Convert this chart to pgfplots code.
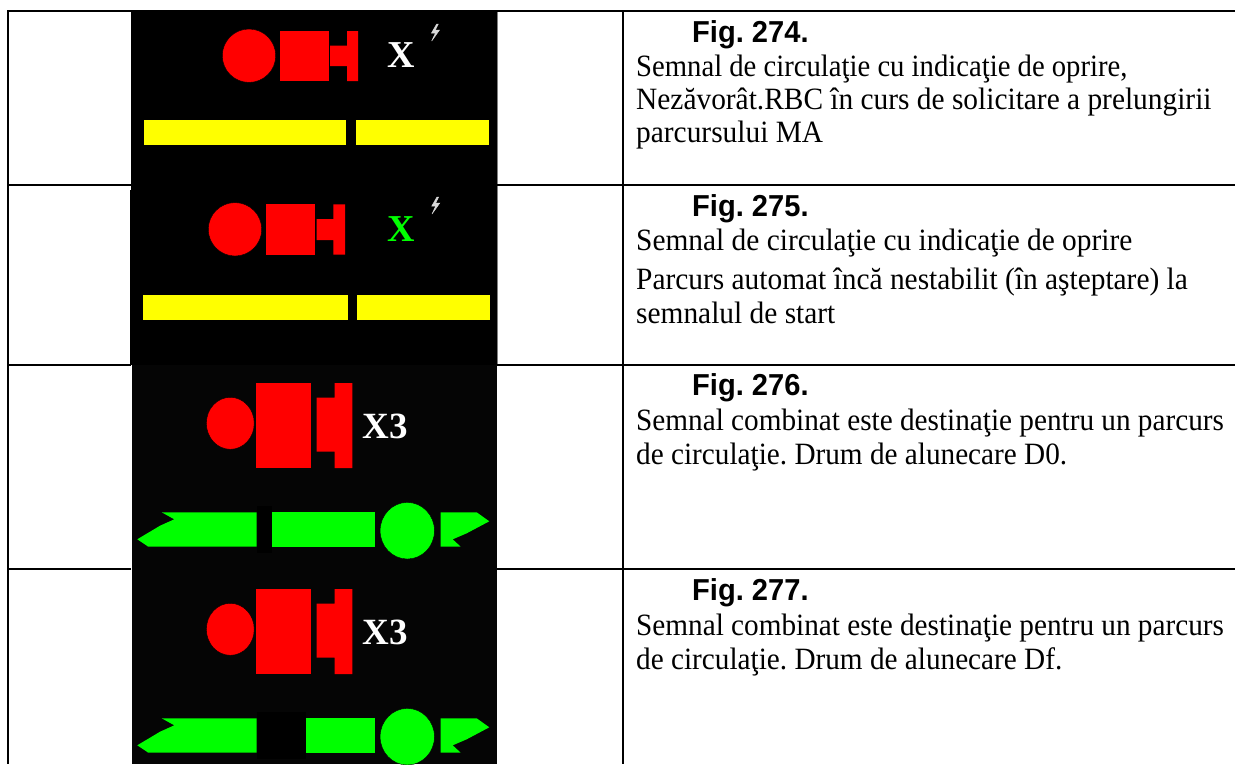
\documentclass[border=0pt]{standalone}
\usepackage{graphicx}
\usepackage{pgfplots}
\pgfplotsset{compat=1.18}
\usepackage{fontspec}
\setmainfont{Liberation Serif}
\newfontfamily\arial{Liberation Sans}
\definecolor{grn}{RGB}{0,255,0}
\definecolor{ylw}{RGB}{255,255,0}
\definecolor{nearblack}{RGB}{5,5,5}
\frenchspacing
\newcommand{\body}[3][0.948]{\node[anchor=base west,inner sep=0pt,font=\fontsize{31}{34}\selectfont] at (axis cs:636,#2) {\scalebox{#1}[1]{#3}};}
\newcommand{\figt}[2]{\node[anchor=base west,inner sep=0pt,font=\arial\bfseries\fontsize{30.3}{34}\selectfont] at (axis cs:692,#1) {\scalebox{0.96}[1]{#2}};}
\begin{document}
\begin{tikzpicture}
\useasboundingbox (0,0) rectangle (1235pt,764pt);
\begin{axis}[at={(0,0)},anchor=south west,scale only axis,width=1235pt,height=764pt,xmin=0,xmax=1235,ymin=0,ymax=764,y dir=reverse,hide axis,clip=true]
% black image backgrounds
\addplot[fill=black,draw=none] coordinates {(131,10)(497,10)(497,190)(131,190)} --cycle;
\addplot[fill=black,draw=none] coordinates {(130,190)(497,190)(497,365)(130,365)} --cycle;
\addplot[fill=nearblack,draw=none] coordinates {(132,365)(497,365)(497,569)(132,569)} --cycle;
\addplot[fill=nearblack,draw=none] coordinates {(132,569)(497,569)(497,764)(132,764)} --cycle;
% table rules
\addplot[black,line width=2pt] coordinates {(7,11)(1235,11)};
\addplot[black,line width=2pt] coordinates {(7,184.5)(131,184.5)};
\addplot[black,line width=2pt] coordinates {(497,184.5)(1235,184.5)};
\addplot[black,line width=2pt] coordinates {(7,365)(131,365)};
\addplot[black,line width=2pt] coordinates {(497,365)(1235,365)};
\addplot[black,line width=2pt] coordinates {(7,569)(131,569)};
\addplot[black,line width=2pt] coordinates {(497,569)(1235,569)};
\addplot[black,line width=2pt] coordinates {(622.5,10)(622.5,764)};
\addplot[black,line width=2pt] coordinates {(8,10)(8,764)};
\addplot[gray,line width=1pt] coordinates {(497,12)(497,184)};
\addplot[gray,line width=1pt] coordinates {(497.5,186)(497.5,364)};
% image 1
\addplot[only marks,mark=*,mark size=26.7pt,mark options={fill=red,draw=none}] coordinates {(249,55.7)};
\addplot[fill=red,draw=none] coordinates {(280,31)(329,31)(329,81)(280,81)} --cycle;
\addplot[fill=red,draw=none] coordinates {(330,45.7)(347,45.7)(347,31)(358,31)(358,81)(347,81)(347,66)(330,66)} --cycle;
\addplot[fill=ylw,draw=none] coordinates {(144.3,120)(346.3,120)(346.3,145.3)(144.3,145.3)} --cycle;
\addplot[fill=ylw,draw=none] coordinates {(356.3,120)(489.3,120)(489.3,145.3)(356.3,145.3)} --cycle;
\addplot[fill=black!15,draw=black!15,line width=0.5pt] coordinates {(436.7,24)(431.5,33)(435.5,33)(431.7,41)(439.5,30)(435.3,30)(438.3,24)} --cycle;
\node[anchor=base,inner sep=0pt,text=white,font=\bfseries\fontsize{38}{38}\selectfont] at (axis cs:401,67.5) {X};
% image 2
\addplot[only marks,mark=*,mark size=26.7pt,mark options={fill=red,draw=none}] coordinates {(235,229.3)};
\addplot[fill=red,draw=none] coordinates {(266.3,204.3)(315.3,204.3)(315.3,254.7)(266.3,254.7)} --cycle;
\addplot[fill=red,draw=none] coordinates {(316.7,219)(333.3,219)(333.3,204.3)(345,204.3)(345,254.7)(333.3,254.7)(333.3,240)(316.7,240)} --cycle;
\addplot[fill=ylw,draw=none] coordinates {(143.3,295)(347.7,295)(347.7,320.3)(143.3,320.3)} --cycle;
\addplot[fill=ylw,draw=none] coordinates {(356.7,295)(490.3,295)(490.3,320.3)(356.7,320.3)} --cycle;
\addplot[fill=black!15,draw=black!15,line width=0.5pt] coordinates {(437,197)(431.8,206)(435.8,206)(432,214)(439.8,203)(435.6,203)(438.6,197)} --cycle;
\node[anchor=base,inner sep=0pt,text=grn,font=\bfseries\fontsize{38}{38}\selectfont] at (axis cs:401.7,241.5) {X};
% image 3
\addplot[only marks,mark=*,mark size=26pt,mark options={fill=red,draw=none,xscale=0.92}] coordinates {(230.3,423.3)};
\addplot[fill=red,draw=none] coordinates {(256.3,383)(310.7,383)(310.7,468)(256.3,468)} --cycle;
\addplot[fill=red,draw=none] coordinates {(316.7,397.7)(334.7,397.7)(334.7,383)(352.3,383)(352.3,468)(334.7,468)(334.7,451.7)(316.7,451.7)} --cycle;
\node[anchor=base,inner sep=0pt,text=white,font=\bfseries\fontsize{37}{37}\selectfont] at (axis cs:385,438.3) {X3};
\addplot[fill=black,draw=none] coordinates {(256.7,506)(272.3,506)(272.3,553)(256.7,553)} --cycle;
\addplot[fill=grn,draw=none] coordinates {(161.7,512.3)(256.7,512.3)(256.7,546.7)(148.3,546.7)(137.3,539.3)(160,525.7)(174.3,519.3)} --cycle;
\addplot[fill=grn,draw=none] coordinates {(272.3,512.3)(374.7,512.3)(374.7,546.7)(272.3,546.7)} --cycle;
\addplot[only marks,mark=*,mark size=28.3pt,mark options={fill=grn,draw=none,xscale=0.96}] coordinates {(407.3,530.7)};
\addplot[fill=grn,draw=none] coordinates {(440.7,512.3)(476.7,512.3)(489.3,521.3)(466.7,533.3)(452.7,539.3)(460.7,546.7)(440.7,546.7)} --cycle;
% image 4
\addplot[only marks,mark=*,mark size=26pt,mark options={fill=red,draw=none,xscale=0.92}] coordinates {(230.3,629.3)};
\addplot[fill=red,draw=none] coordinates {(256.3,589)(310.7,589)(310.7,674)(256.3,674)} --cycle;
\addplot[fill=red,draw=none] coordinates {(316.7,603.7)(334.7,603.7)(334.7,589)(352.3,589)(352.3,674)(334.7,674)(334.7,657.7)(316.7,657.7)} --cycle;
\node[anchor=base,inner sep=0pt,text=white,font=\bfseries\fontsize{37}{37}\selectfont] at (axis cs:385,644.3) {X3};
\addplot[fill=black,draw=none] coordinates {(256.7,712)(306,712)(306,759)(256.7,759)} --cycle;
\addplot[fill=grn,draw=none] coordinates {(161.7,718.3)(256.7,718.3)(256.7,752.7)(148.3,752.7)(137.3,745.3)(160,731.7)(174.3,725.3)} --cycle;
\addplot[fill=grn,draw=none] coordinates {(306,718.3)(374.7,718.3)(374.7,752.7)(306,752.7)} --cycle;
\addplot[only marks,mark=*,mark size=28.3pt,mark options={fill=grn,draw=none,xscale=0.96}] coordinates {(407.3,736.7)};
\addplot[fill=grn,draw=none] coordinates {(440.7,718.3)(476.7,718.3)(489.3,727.3)(466.7,739.3)(452.7,745.3)(460.7,752.7)(440.7,752.7)} --cycle;
% text
\figt{42.5}{Fig. 274.}
\body[0.925]{76}{Semnal de circulaţie cu indicaţie de oprire,}
\body{109}{Nezăvorât.RBC în curs de solicitare a prelungirii}
\body{142}{parcursului MA}
\figt{216}{Fig. 275.}
\body{250}{Semnal de circulaţie cu indicaţie de oprire}
\body{289}{Parcurs automat încă nestabilit (în aşteptare) la}
\body{323}{semnalul de start}
\figt{395}{Fig. 276.}
\body[0.943]{430}{Semnal combinat este destinaţie pentru un parcurs}
\body[0.943]{464}{de circulaţie. Drum de alunecare D0.}
\figt{600}{Fig. 277.}
\body[0.943]{635}{Semnal combinat este destinaţie pentru un parcurs}
\body[0.943]{669}{de circulaţie. Drum de alunecare Df.}
\end{axis}
\end{tikzpicture}
\end{document}
